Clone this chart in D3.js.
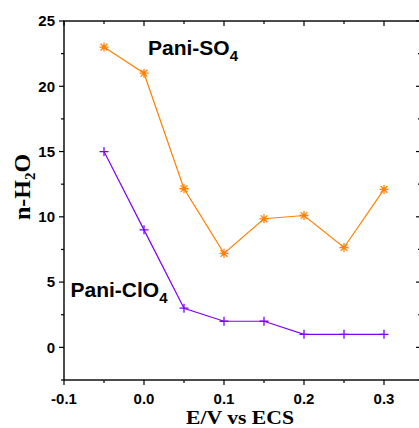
<!DOCTYPE html>
<html><head><meta charset="utf-8">
<script src="https://cdn.jsdelivr.net/npm/d3@7"></script>
<style>html,body{margin:0;padding:0;background:#fff;overflow:hidden}</style>
</head><body>
<svg id="c" width="419" height="428"></svg>
<script>
const potentials = [-0.05, 0.0, 0.05, 0.1, 0.15, 0.2, 0.25, 0.3];
const so4Values = [23.0, 21.0, 12.15, 7.2, 9.85, 10.1, 7.65, 12.1];
const clo4Values = [15, 9, 3, 2, 2, 1, 1, 1];
const xTickLabels = ["-0.1", "0.0", "0.1", "0.2", "0.3"];
const xTickValues = [-0.1, 0.0, 0.1, 0.2, 0.3];
const yTickValues = [0, 5, 10, 15, 20, 25];
const seriesNames = ["Pani-SO", "Pani-ClO"];

const svg = d3.select("#c");
const L = 64, T = 21, B = 380, R = 421;
const x = d3.scaleLinear().domain([-0.1, 0.34625]).range([L, R]);
const y = d3.scaleLinear().domain([-2.5, 25]).range([B, T]);

const orange = "#ff8000", purple = "#8000ff";
const g = svg.append("g");

// frame
g.append("rect").attr("x", L).attr("y", T).attr("width", R - L).attr("height", B - T)
  .attr("fill", "none").attr("stroke", "#000").attr("stroke-width", 1.4);

const xMinor = d3.range(-0.05, 0.35, 0.1);
const yMinor = d3.range(-2.5, 25, 5);

// bottom ticks (outward)
xTickValues.forEach(v => g.append("line").attr("x1", x(v)).attr("x2", x(v)).attr("y1", B).attr("y2", B + 5).attr("stroke", "#000").attr("stroke-width", 1.2));
xMinor.forEach(v => g.append("line").attr("x1", x(v)).attr("x2", x(v)).attr("y1", B).attr("y2", B + 3).attr("stroke", "#000").attr("stroke-width", 1.2));
// top ticks (inward)
xTickValues.forEach(v => g.append("line").attr("x1", x(v)).attr("x2", x(v)).attr("y1", T).attr("y2", T + 5).attr("stroke", "#000").attr("stroke-width", 1.2));
xMinor.forEach(v => g.append("line").attr("x1", x(v)).attr("x2", x(v)).attr("y1", T).attr("y2", T + 3).attr("stroke", "#000").attr("stroke-width", 1.2));
// left ticks (outward)
yTickValues.forEach(v => g.append("line").attr("x1", L - 5).attr("x2", L).attr("y1", y(v)).attr("y2", y(v)).attr("stroke", "#000").attr("stroke-width", 1.2));
yMinor.forEach(v => g.append("line").attr("x1", L - 3).attr("x2", L).attr("y1", y(v)).attr("y2", y(v)).attr("stroke", "#000").attr("stroke-width", 1.2));
// right ticks (inward)
yTickValues.forEach(v => g.append("line").attr("x1", R - 5).attr("x2", R).attr("y1", y(v)).attr("y2", y(v)).attr("stroke", "#000").attr("stroke-width", 1.2));
yMinor.forEach(v => g.append("line").attr("x1", R - 3).attr("x2", R).attr("y1", y(v)).attr("y2", y(v)).attr("stroke", "#000").attr("stroke-width", 1.2));

// tick labels
const tf = "'Liberation Sans', Arial, sans-serif";
xTickValues.forEach((v, i) => g.append("text").attr("x", x(v)).attr("y", 403.5)
  .attr("text-anchor", "middle").attr("font-family", tf).attr("font-weight", "bold")
  .attr("font-size", 15).text(xTickLabels[i]));
yTickValues.forEach(v => g.append("text").attr("x", 55).attr("y", y(v)).attr("dy", "0.36em")
  .attr("text-anchor", "end").attr("font-family", tf).attr("font-weight", "bold")
  .attr("font-size", 15).text(v));

// axis titles
const sf = "'Liberation Serif', 'Times New Roman', serif";
g.append("text").attr("x", 240).attr("y", 424).attr("text-anchor", "middle")
  .attr("font-family", sf).attr("font-weight", "bold").attr("font-size", 18)
  .attr("textLength", 108).attr("lengthAdjust", "spacingAndGlyphs").text("E/V vs ECS");
const yt = g.append("text").attr("transform", "translate(29.5,187) rotate(-90)")
  .attr("text-anchor", "middle").attr("font-family", sf).attr("font-weight", "bold").attr("font-size", 24);
yt.append("tspan").text("n-H");
yt.append("tspan").attr("font-size", 15).attr("dy", 5).text("2");
yt.append("tspan").attr("dy", -5).text("O");

// lines
const line = d3.line().x((d, i) => x(potentials[i])).y(d => y(d));
g.append("path").attr("d", line(so4Values)).attr("fill", "none").attr("stroke", orange).attr("stroke-width", 1.2);
g.append("path").attr("d", line(clo4Values)).attr("fill", "none").attr("stroke", purple).attr("stroke-width", 1.2);

// markers
const s = 4.5, d45 = 3.4;
so4Values.forEach((v, i) => {
  const cx = x(potentials[i]), cy = y(v);
  g.append("path").attr("d",
    `M${cx - s},${cy}L${cx + s},${cy}M${cx},${cy - s}L${cx},${cy + s}M${cx - d45},${cy - d45}L${cx + d45},${cy + d45}M${cx - d45},${cy + d45}L${cx + d45},${cy - d45}`)
    .attr("stroke", orange).attr("stroke-width", 1.3).attr("fill", "none");
});
clo4Values.forEach((v, i) => {
  const cx = x(potentials[i]), cy = y(v);
  g.append("path").attr("d", `M${cx - s},${cy}L${cx + s},${cy}M${cx},${cy - s}L${cx},${cy + s}`)
    .attr("stroke", purple).attr("stroke-width", 1.3).attr("fill", "none");
});

// series labels
function seriesLabel(px, py, name) {
  const t = g.append("text").attr("x", px).attr("y", py).attr("font-family", tf)
    .attr("font-weight", "bold").attr("font-size", 21);
  t.append("tspan").text(name);
  t.append("tspan").attr("font-size", 15).attr("dy", 6).text("4");
}
seriesLabel(148, 55, seriesNames[0]);
seriesLabel(70.5, 297, seriesNames[1]);
</script>
</body></html>
